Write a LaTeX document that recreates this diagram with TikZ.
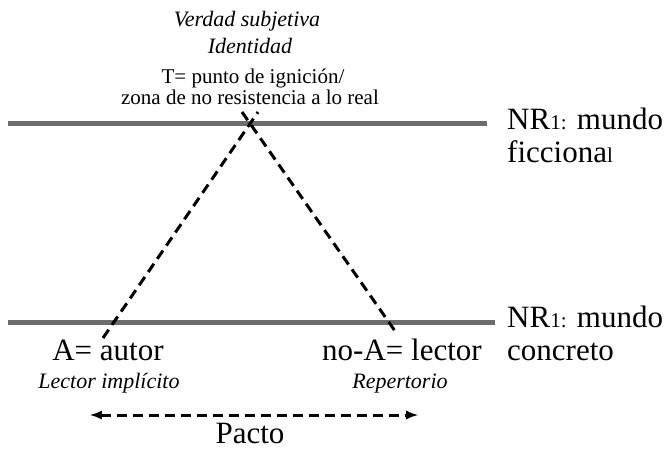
\documentclass[tikz,border=0pt]{standalone}
\usepackage{fontspec}
\setmainfont{Liberation Serif}
\usepackage{tikz}
\usetikzlibrary{arrows}

\newcommand{\nrsmall}[1]{{\fontsize{21}{21}\selectfont #1}}

\begin{document}
\begin{tikzpicture}[x=1pt,y=-1pt]
  \useasboundingbox (0,0) rectangle (667,449);
  \tikzset{nivel/.style={gray!85!black,line width=5pt},
           guion/.style={black,line width=3pt,dash pattern=on 10pt off 6pt},
           rotulo/.style={font=\fontsize{31}{33}\selectfont,anchor=base,inner sep=0pt},
           cursiva/.style={font=\fontsize{22}{22}\selectfont\itshape,anchor=base,inner sep=0pt},
           medio/.style={font=\fontsize{21}{21}\selectfont,anchor=base,inner sep=0pt}}
  % niveles de realidad
  \coordinate (fic1) at (8,124);  \coordinate (fic2) at (487,124);
  \coordinate (con1) at (8,322);  \coordinate (con2) at (495,322);
  \draw[nivel] (fic1) -- (fic2);
  \draw[nivel] (con1) -- (con2);
  \node[rotulo,anchor=base west,align=left] (nrfic) at (507,163) {NR\nrsmall{1:} mundo\\ ficciona\nrsmall{l}};
  \node[rotulo,anchor=base west,align=left] (nrcon) at (507,360) {NR\nrsmall{1:} mundo\\ concreto};
  % triangulo
  \coordinate (autorpt) at (103,338);
  \coordinate (lectorpt) at (395,331);
  \coordinate (izqtop) at (258,112);
  \coordinate (dertop) at (242,112);
  \draw[guion] (autorpt) -- (izqtop);
  \draw[guion] (dertop) -- (lectorpt);
  % textos de arriba
  \node[cursiva] (verdad) at (247,27) {Verdad subjetiva};
  \node[cursiva] (ident) at (250,54) {Identidad};
  \node[medio] (tign) at (253,84) {T= punto de ignición/};
  \node[medio] (zona) at (250,105) {zona de no resistencia a lo real};
  % textos de abajo
  \node[rotulo] (autor) at (108,360) {A= autor};
  \node[cursiva] (limpl) at (109,388) {Lector implícito};
  \node[rotulo] (lector) at (402,360) {no-A= lector};
  \node[cursiva] (reper) at (400,388) {Repertorio};
  \coordinate (pi) at (90,415);
  \coordinate (pd) at (418,415);
  \draw[guion,latex-latex] (pi) -- (pd);
  \node[rotulo] (pacto) at (250,443) {Pacto};
\end{tikzpicture}
\end{document}
